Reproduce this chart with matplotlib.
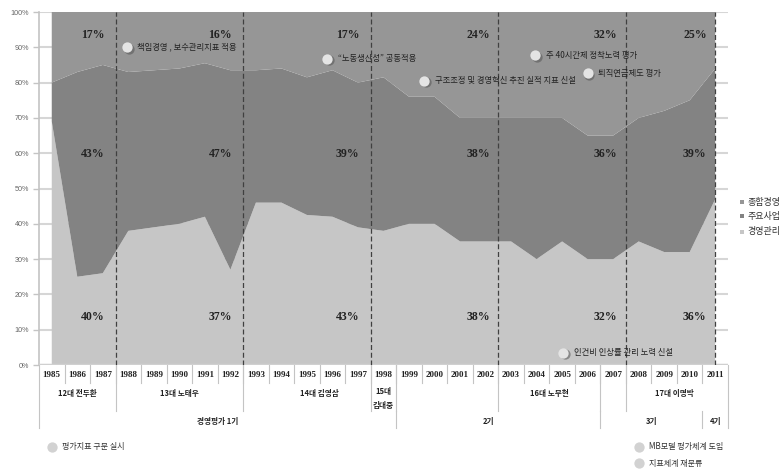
import matplotlib
matplotlib.use("Agg")
import matplotlib.pyplot as plt
from matplotlib.transforms import blended_transform_factory, ScaledTranslation

plt.rcParams['font.family'] = ['Noto Sans CJK KR', 'DejaVu Sans']

# ---- data -------------------------------------------------------------
years = ['1985', '1986', '1987', '1988', '1989', '1990', '1991', '1992',
         '1993', '1994', '1995', '1996', '1997', '1998', '1999', '2000',
         '2001', '2002', '2003', '2004', '2005', '2006', '2007', '2008',
         '2009', '2010', '2011']

# 경영관리 (bottom layer), %
mgmt = [69, 25, 26, 38, 39, 40, 42, 27, 46, 46, 42.5, 42, 39, 38, 40, 40,
        35, 35, 35, 30, 35, 30, 30, 35, 32, 32, 47]
# 주요사업 (middle layer), %
main_biz = [11, 58, 59, 45, 44.5, 44, 43.5, 56.5, 37.5, 38, 39, 41.5, 41,
            43.5, 36, 36, 35, 35, 35, 40, 35, 35, 35, 35, 40, 43, 37]
# 종합경영 (top layer), %
overall = [20, 17, 15, 17, 16.5, 16, 14.5, 16.5, 16.5, 16, 18.5, 16.5, 20,
           18.5, 24, 24, 30, 30, 30, 30, 30, 35, 35, 30, 28, 25, 16]

series_names = ['종합경영', '주요사업', '경영관리']

# period averages printed inside each block
period_top = ['17%', '16%', '17%', '24%', '32%', '25%']
period_mid = ['43%', '47%', '39%', '38%', '36%', '39%']
period_bottom = ['40%', '37%', '43%', '38%', '32%', '36%']

presidents = ['12대 전두환', '13대 노태우', '14대 김영삼', '15대\n김대중',
              '16대 노무현', '17대 이명박']
stages = ['경영평가 1기', '2기', '3기', '4기']

events = ['책임경영 , 보수관리지표 적용', '“노동생산성” 공동적용',
          '구조조정 및 경영혁신 추진 실적 지표 신설', '주 40시간제 정착노력 평가',
          '퇴직연금제도 평가', '인건비 인상률 관리 노력 신설']

legend_notes = ['평가지표 구분 실시', 'MB모델 평가체계 도입', '지표체계 재분류']

# ---- styling ----------------------------------------------------------
c_top = '#969696'
c_mid = '#838383'
c_bot = '#c6c6c6'
grid_c = '#d6d6d6'
line_c = '#c4c4c4'

fig = plt.figure(figsize=(7.83, 4.69), dpi=100)
ax = fig.add_axes([39 / 783, 1 - 365 / 469, 689 / 783, 353 / 469])

x = list(range(len(years)))
ax.stackplot(x, mgmt, main_biz, overall, colors=[c_bot, c_mid, c_top],
             linewidth=0, zorder=2)

ax.set_xlim(-0.5, len(years) - 0.5)
ax.set_ylim(0, 100)

# horizontal gridlines (hidden behind the areas except at the edges)
for v in range(10, 101, 10):
    ax.axhline(v, color=grid_c, lw=1.5, zorder=1)
ax.axhline(0, color='#d0d0d0', lw=2.5, zorder=3)

for s in ['top', 'right', 'bottom']:
    ax.spines[s].set_visible(False)
ax.spines['left'].set_color(line_c)
ax.spines['left'].set_linewidth(1.2)

ax.set_yticks(range(0, 101, 10))
ax.set_yticklabels([f'{v}%' for v in range(0, 101, 10)],
                   family='Liberation Sans', fontsize=5.2, color='#666666')
ax.tick_params(axis='y', length=4, width=1, color=line_c, pad=3)
ax.set_xticks([])

# dashed separators between presidential terms
for xv in [2.5, 7.5, 12.5, 17.5, 22.5, 26]:
    ax.plot([xv, xv], [0, 100], color='#404040', lw=0.9,
            dashes=(4, 2.2), zorder=4)

# period average labels
label_x = [1.6, 6.6, 11.6, 16.7, 21.7, 25.2]
for lx, t, m, b in zip(label_x, period_top, period_mid, period_bottom):
    for txt, yv in [(t, 93.5), (m, 59.8), (b, 13.6)]:
        ax.text(lx, yv, txt, ha='center', va='center', fontsize=8.5,
                fontweight='bold', family='Liberation Serif',
                color='#222222', zorder=5)

# event markers with a soft drop shadow
shadow = ax.transData + ScaledTranslation(1.5 / 100, -1.5 / 100,
                                          fig.dpi_scale_trans)
event_pos = [(2.95, 90.0), (10.8, 86.7), (14.6, 80.5), (18.95, 87.8),
             (21.0, 82.7), (20.05, 3.4)]
for (ex, ey), txt in zip(event_pos, events):
    ax.scatter([ex], [ey], s=55, color='#555555', alpha=0.55, zorder=5,
               linewidths=0, transform=shadow)
    ax.scatter([ex], [ey], s=55, color='#e4e4e4', zorder=6, linewidths=0)
    ax.annotate(txt, (ex, ey), xytext=(7.5, 0), textcoords='offset points',
                ha='left', va='center', fontsize=6, color='#222222',
                zorder=7)

# ---- category table under the axis ------------------------------------
tr = blended_transform_factory(ax.transData, ax.transAxes)
y_year = -0.051
y_pres = -0.130
y_stage = -0.178

for i, yr in enumerate(years):
    ax.text(i, -0.027, yr, transform=tr, ha='center', va='center',
            fontsize=6.5, fontweight='bold', family='Liberation Serif',
            color='#222222')
for k in range(1, len(years)):
    ax.plot([k - 0.5, k - 0.5], [0, y_year], transform=tr, color=line_c,
            lw=0.8, clip_on=False)

for xv in [2.5, 7.5, 12.5, 13.5, 17.5, 21.5, 22.5]:
    ax.plot([xv, xv], [0, y_pres], transform=tr, color=line_c, lw=0.8,
            clip_on=False)
for xv in [-0.5, len(years) - 0.5]:
    ax.plot([xv, xv], [0, y_stage], transform=tr, color=line_c, lw=0.8,
            clip_on=False)
for xv in [13.5, 21.5, 25.5]:
    ax.plot([xv, xv], [y_pres, y_stage], transform=tr, color=line_c, lw=0.8,
            clip_on=False)

pres_x = [1.0, 5.0, 10.5, 13.0, 19.5, 24.4]
for px, name in zip(pres_x, presidents):
    if '\n' in name:
        ax.text(px, -0.095, name, transform=tr, ha='center', va='center',
                fontsize=5.5, fontweight='bold', color='#222222',
                linespacing=1.6)
    else:
        ax.text(px, -0.080, name, transform=tr, ha='center', va='center',
                fontsize=5.5, fontweight='bold', color='#222222')

stage_x = [6.5, 17.1, 23.5, 26.0]
for sx, name in zip(stage_x, stages):
    ax.text(sx, -0.161, name, transform=tr, ha='center', va='center',
            fontsize=5.5, fontweight='bold', color='#222222')

# ---- notes under the table --------------------------------------------
note_pos = [(0.0, -0.232), (23.0, -0.232), (23.0, -0.278)]
for (nx, ny), txt in zip(note_pos, legend_notes):
    ax.scatter([nx], [ny], s=55, color='#d2d2d2', linewidths=0,
               transform=tr, clip_on=False)
    ax.text(nx + 0.42, ny, txt, transform=tr, ha='left', va='center',
            fontsize=5.8, color='#333333')

# ---- series legend on the right ---------------------------------------
leg_y = [0.4618, 0.422, 0.377]
for yy, name, col in zip(leg_y, series_names, [c_top, c_mid, c_bot]):
    ax.scatter([1.0203], [yy], s=12, marker='s', color=col, linewidths=0,
               transform=ax.transAxes, clip_on=False)
    ax.text(1.028, yy, name, transform=ax.transAxes, ha='left', va='center',
            fontsize=6.5, color='#333333')

fig.savefig('out.png', dpi=100)
